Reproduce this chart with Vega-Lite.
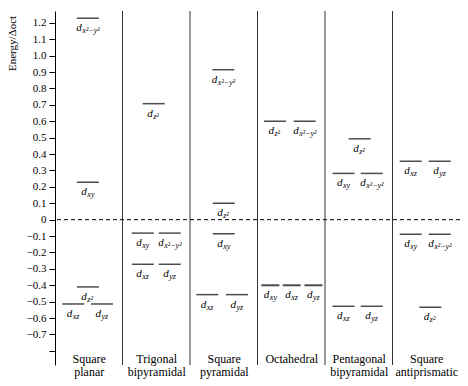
{
  "$schema": "https://vega.github.io/schema/vega-lite/v6.json",
  "width": 405,
  "height": 354,
  "autosize": {"type": "none"},
  "padding": {"left": 55, "top": 11, "right": 8, "bottom": 21},
  "background": "white",
  "config": {
    "view": {"stroke": null},
    "font": "Liberation Serif",
    "axisY": {
      "title": "Energy/Δoct", "titleFont": "Liberation Serif", "titleFontSize": 11,
      "titleFontWeight": "normal", "titleColor": "black",
      "titleX": -43, "titleY": 32, "titleAlign": "center", "titleBaseline": "middle",
      "grid": false, "tickSize": 6, "tickColor": "black", "domainColor": "black",
      "labelPadding": 3, "labelFont": "Liberation Serif", "labelFontSize": 11,
      "labelColor": "black", "labelOverlap": false, "labelFlush": false
    },
    "axisX": {
      "orient": "bottom", "title": null,
      "ticks": false, "tickSize": 0, "domain": false, "grid": false,
      "labelPadding": -12, "labelBaseline": "top",
      "labelFont": "Liberation Serif", "labelFontSize": 12, "labelLineHeight": 13,
      "labelColor": "black", "labelFlush": false, "labelOverlap": false
    }
  },
  "datasets": {
    "levels": [
      {"g": "Square planar", "x": 0.487, "E": 1.228, "s": "x²−y²"},
      {"g": "Square planar", "x": 0.487, "E": 0.228, "s": "xy"},
      {"g": "Square planar", "x": 0.487, "E": -0.41, "s": "z²"},
      {"g": "Square planar", "x": 0.271, "E": -0.514, "s": "xz"},
      {"g": "Square planar", "x": 0.696, "E": -0.514, "s": "yz"},
      {"g": "Trigonal bipyramidal", "x": 1.462, "E": 0.707, "s": "z²"},
      {"g": "Trigonal bipyramidal", "x": 1.301, "E": -0.082, "s": "xy"},
      {"g": "Trigonal bipyramidal", "x": 1.70, "E": -0.082, "s": "x²−y²"},
      {"g": "Trigonal bipyramidal", "x": 1.301, "E": -0.272, "s": "xz"},
      {"g": "Trigonal bipyramidal", "x": 1.70, "E": -0.272, "s": "yz"},
      {"g": "Square pyramidal", "x": 2.494, "E": 0.914, "s": "x²−y²"},
      {"g": "Square pyramidal", "x": 2.50, "E": 0.1, "s": "z²"},
      {"g": "Square pyramidal", "x": 2.50, "E": -0.086, "s": "xy"},
      {"g": "Square pyramidal", "x": 2.256, "E": -0.457, "s": "xz"},
      {"g": "Square pyramidal", "x": 2.696, "E": -0.457, "s": "yz"},
      {"g": "Octahedral", "x": 3.259, "E": 0.6, "s": "z²"},
      {"g": "Octahedral", "x": 3.699, "E": 0.6, "s": "x²−y²"},
      {"g": "Octahedral", "x": 3.19, "E": -0.4, "s": "xy"},
      {"g": "Octahedral", "x": 3.506, "E": -0.4, "s": "xz"},
      {"g": "Octahedral", "x": 3.83, "E": -0.4, "s": "yz"},
      {"g": "Pentagonal bipyramidal", "x": 4.514, "E": 0.493, "s": "z²"},
      {"g": "Pentagonal bipyramidal", "x": 4.274, "E": 0.282, "s": "xy"},
      {"g": "Pentagonal bipyramidal", "x": 4.692, "E": 0.282, "s": "x²−y²"},
      {"g": "Pentagonal bipyramidal", "x": 4.274, "E": -0.528, "s": "xz"},
      {"g": "Pentagonal bipyramidal", "x": 4.692, "E": -0.528, "s": "yz"},
      {"g": "Square antiprismatic", "x": 5.27, "E": 0.356, "s": "xz"},
      {"g": "Square antiprismatic", "x": 5.70, "E": 0.356, "s": "yz"},
      {"g": "Square antiprismatic", "x": 5.27, "E": -0.089, "s": "xy"},
      {"g": "Square antiprismatic", "x": 5.70, "E": -0.089, "s": "x²−y²"},
      {"g": "Square antiprismatic", "x": 5.56, "E": -0.534, "s": "z²"}
    ],
    "dividers": [{"x": 1}, {"x": 2}, {"x": 3}, {"x": 4}, {"x": 5}]
  },
  "layer": [
    {
      "data": {"name": "dividers"},
      "mark": {"type": "rule", "color": "#333", "strokeWidth": 1},
      "encoding": {
        "x": {
          "field": "x", "type": "quantitative",
          "scale": {"domain": [0, 6], "nice": false, "zero": false},
          "axis": {
            "title": null,
            "values": [0.5, 1.5, 2.5, 3.5, 4.5, 5.5],
            "labelExpr": "datum.value == 0.5 ? ['Square','planar'] : datum.value == 1.5 ? ['Trigonal','bipyramidal'] : datum.value == 2.5 ? ['Square','pyramidal'] : datum.value == 3.5 ? 'Octahedral' : datum.value == 4.5 ? ['Pentagonal','bipyramidal'] : ['Square','antiprismatic']"
          }
        }
      }
    },
    {
      "data": {"values": [{"E": 0}]},
      "mark": {"type": "rule", "color": "black", "strokeWidth": 1, "strokeDash": [4, 3]},
      "encoding": {
        "y": {
          "field": "E", "type": "quantitative",
          "scale": {"domain": [-0.886, 1.272], "nice": false, "zero": false},
          "axis": {
            "title": "Energy/Δoct",
            "values": [-0.8, -0.7, -0.6, -0.5, -0.4, -0.3, -0.2, -0.1, 0, 0.1, 0.2, 0.3, 0.4, 0.5, 0.6, 0.7, 0.8, 0.9, 1.0, 1.1, 1.2],
            "labelExpr": "datum.value < -0.75 ? '' : datum.value == 0 ? '0' : format(datum.value, '.1f')"
          }
        }
      }
    },
    {
      "data": {"name": "levels"},
      "transform": [{"filter": "!(datum.g == 'Octahedral' && datum.E < 0)"}],
      "mark": {"type": "tick", "orient": "horizontal", "size": 22, "thickness": 1.5, "color": "black"},
      "encoding": {
        "x": {"field": "x", "type": "quantitative", "scale": {"domain": [0, 6], "nice": false, "zero": false},
          "axis": {"title": null, "values": [0.5, 1.5, 2.5, 3.5, 4.5, 5.5],
            "labelExpr": "datum.value == 0.5 ? ['Square','planar'] : datum.value == 1.5 ? ['Trigonal','bipyramidal'] : datum.value == 2.5 ? ['Square','pyramidal'] : datum.value == 3.5 ? 'Octahedral' : datum.value == 4.5 ? ['Pentagonal','bipyramidal'] : ['Square','antiprismatic']"}},
        "y": {"field": "E", "type": "quantitative", "scale": {"domain": [-0.886, 1.272], "nice": false, "zero": false},
          "axis": {"title": "Energy/Δoct",
            "values": [-0.8, -0.7, -0.6, -0.5, -0.4, -0.3, -0.2, -0.1, 0, 0.1, 0.2, 0.3, 0.4, 0.5, 0.6, 0.7, 0.8, 0.9, 1.0, 1.1, 1.2],
            "labelExpr": "datum.value < -0.75 ? '' : datum.value == 0 ? '0' : format(datum.value, '.1f')"}}
      }
    },
    {
      "data": {"name": "levels"},
      "transform": [{"filter": "datum.g == 'Octahedral' && datum.E < 0"}],
      "mark": {"type": "tick", "orient": "horizontal", "size": 18, "thickness": 2, "color": "black"},
      "encoding": {
        "x": {"field": "x", "type": "quantitative", "scale": {"domain": [0, 6], "nice": false, "zero": false},
          "axis": {"title": null, "values": [0.5, 1.5, 2.5, 3.5, 4.5, 5.5],
            "labelExpr": "datum.value == 0.5 ? ['Square','planar'] : datum.value == 1.5 ? ['Trigonal','bipyramidal'] : datum.value == 2.5 ? ['Square','pyramidal'] : datum.value == 3.5 ? 'Octahedral' : datum.value == 4.5 ? ['Pentagonal','bipyramidal'] : ['Square','antiprismatic']"}},
        "y": {"field": "E", "type": "quantitative", "scale": {"domain": [-0.886, 1.272], "nice": false, "zero": false},
          "axis": {"title": "Energy/Δoct",
            "values": [-0.8, -0.7, -0.6, -0.5, -0.4, -0.3, -0.2, -0.1, 0, 0.1, 0.2, 0.3, 0.4, 0.5, 0.6, 0.7, 0.8, 0.9, 1.0, 1.1, 1.2],
            "labelExpr": "datum.value < -0.75 ? '' : datum.value == 0 ? '0' : format(datum.value, '.1f')"}}
      }
    },
    {
      "data": {"name": "levels"},
      "transform": [{"filter": "datum.s != 'x²−y²'"}],
      "mark": {"type": "text", "text": "d", "align": "right", "baseline": "top", "dy": 4, "dx": -1, "font": "Liberation Serif", "fontStyle": "italic", "fontSize": 11, "color": "black"},
      "encoding": {
        "x": {"field": "x", "type": "quantitative", "scale": {"domain": [0, 6], "nice": false, "zero": false},
          "axis": {"title": null, "values": [0.5, 1.5, 2.5, 3.5, 4.5, 5.5],
            "labelExpr": "datum.value == 0.5 ? ['Square','planar'] : datum.value == 1.5 ? ['Trigonal','bipyramidal'] : datum.value == 2.5 ? ['Square','pyramidal'] : datum.value == 3.5 ? 'Octahedral' : datum.value == 4.5 ? ['Pentagonal','bipyramidal'] : ['Square','antiprismatic']"}},
        "y": {"field": "E", "type": "quantitative", "scale": {"domain": [-0.886, 1.272], "nice": false, "zero": false},
          "axis": {"title": "Energy/Δoct",
            "values": [-0.8, -0.7, -0.6, -0.5, -0.4, -0.3, -0.2, -0.1, 0, 0.1, 0.2, 0.3, 0.4, 0.5, 0.6, 0.7, 0.8, 0.9, 1.0, 1.1, 1.2],
            "labelExpr": "datum.value < -0.75 ? '' : datum.value == 0 ? '0' : format(datum.value, '.1f')"}}
      }
    },
    {
      "data": {"name": "levels"},
      "transform": [{"filter": "datum.s != 'x²−y²'"}],
      "mark": {"type": "text", "align": "left", "baseline": "top", "dy": 9, "dx": -0.5, "font": "Liberation Serif", "fontStyle": "italic", "fontSize": 8, "color": "black"},
      "encoding": {
        "x": {"field": "x", "type": "quantitative", "scale": {"domain": [0, 6], "nice": false, "zero": false},
          "axis": {"title": null, "values": [0.5, 1.5, 2.5, 3.5, 4.5, 5.5],
            "labelExpr": "datum.value == 0.5 ? ['Square','planar'] : datum.value == 1.5 ? ['Trigonal','bipyramidal'] : datum.value == 2.5 ? ['Square','pyramidal'] : datum.value == 3.5 ? 'Octahedral' : datum.value == 4.5 ? ['Pentagonal','bipyramidal'] : ['Square','antiprismatic']"}},
        "y": {"field": "E", "type": "quantitative", "scale": {"domain": [-0.886, 1.272], "nice": false, "zero": false},
          "axis": {"title": "Energy/Δoct",
            "values": [-0.8, -0.7, -0.6, -0.5, -0.4, -0.3, -0.2, -0.1, 0, 0.1, 0.2, 0.3, 0.4, 0.5, 0.6, 0.7, 0.8, 0.9, 1.0, 1.1, 1.2],
            "labelExpr": "datum.value < -0.75 ? '' : datum.value == 0 ? '0' : format(datum.value, '.1f')"}},
        "text": {"field": "s", "type": "nominal"}
      }
    },
    {
      "data": {"name": "levels"},
      "transform": [{"filter": "datum.s == 'x²−y²'"}],
      "mark": {"type": "text", "text": "d", "align": "right", "baseline": "top", "dy": 4, "dx": -6, "font": "Liberation Serif", "fontStyle": "italic", "fontSize": 11, "color": "black"},
      "encoding": {
        "x": {"field": "x", "type": "quantitative", "scale": {"domain": [0, 6], "nice": false, "zero": false},
          "axis": {"title": null, "values": [0.5, 1.5, 2.5, 3.5, 4.5, 5.5],
            "labelExpr": "datum.value == 0.5 ? ['Square','planar'] : datum.value == 1.5 ? ['Trigonal','bipyramidal'] : datum.value == 2.5 ? ['Square','pyramidal'] : datum.value == 3.5 ? 'Octahedral' : datum.value == 4.5 ? ['Pentagonal','bipyramidal'] : ['Square','antiprismatic']"}},
        "y": {"field": "E", "type": "quantitative", "scale": {"domain": [-0.886, 1.272], "nice": false, "zero": false},
          "axis": {"title": "Energy/Δoct",
            "values": [-0.8, -0.7, -0.6, -0.5, -0.4, -0.3, -0.2, -0.1, 0, 0.1, 0.2, 0.3, 0.4, 0.5, 0.6, 0.7, 0.8, 0.9, 1.0, 1.1, 1.2],
            "labelExpr": "datum.value < -0.75 ? '' : datum.value == 0 ? '0' : format(datum.value, '.1f')"}}
      }
    },
    {
      "data": {"name": "levels"},
      "transform": [{"filter": "datum.s == 'x²−y²'"}],
      "mark": {"type": "text", "align": "left", "baseline": "top", "dy": 9, "dx": -5.5, "font": "Liberation Serif", "fontStyle": "italic", "fontSize": 8, "color": "black"},
      "encoding": {
        "x": {"field": "x", "type": "quantitative", "scale": {"domain": [0, 6], "nice": false, "zero": false},
          "axis": {"title": null, "values": [0.5, 1.5, 2.5, 3.5, 4.5, 5.5],
            "labelExpr": "datum.value == 0.5 ? ['Square','planar'] : datum.value == 1.5 ? ['Trigonal','bipyramidal'] : datum.value == 2.5 ? ['Square','pyramidal'] : datum.value == 3.5 ? 'Octahedral' : datum.value == 4.5 ? ['Pentagonal','bipyramidal'] : ['Square','antiprismatic']"}},
        "y": {"field": "E", "type": "quantitative", "scale": {"domain": [-0.886, 1.272], "nice": false, "zero": false},
          "axis": {"title": "Energy/Δoct",
            "values": [-0.8, -0.7, -0.6, -0.5, -0.4, -0.3, -0.2, -0.1, 0, 0.1, 0.2, 0.3, 0.4, 0.5, 0.6, 0.7, 0.8, 0.9, 1.0, 1.1, 1.2],
            "labelExpr": "datum.value < -0.75 ? '' : datum.value == 0 ? '0' : format(datum.value, '.1f')"}},
        "text": {"field": "s", "type": "nominal"}
      }
    }
  ]
}
